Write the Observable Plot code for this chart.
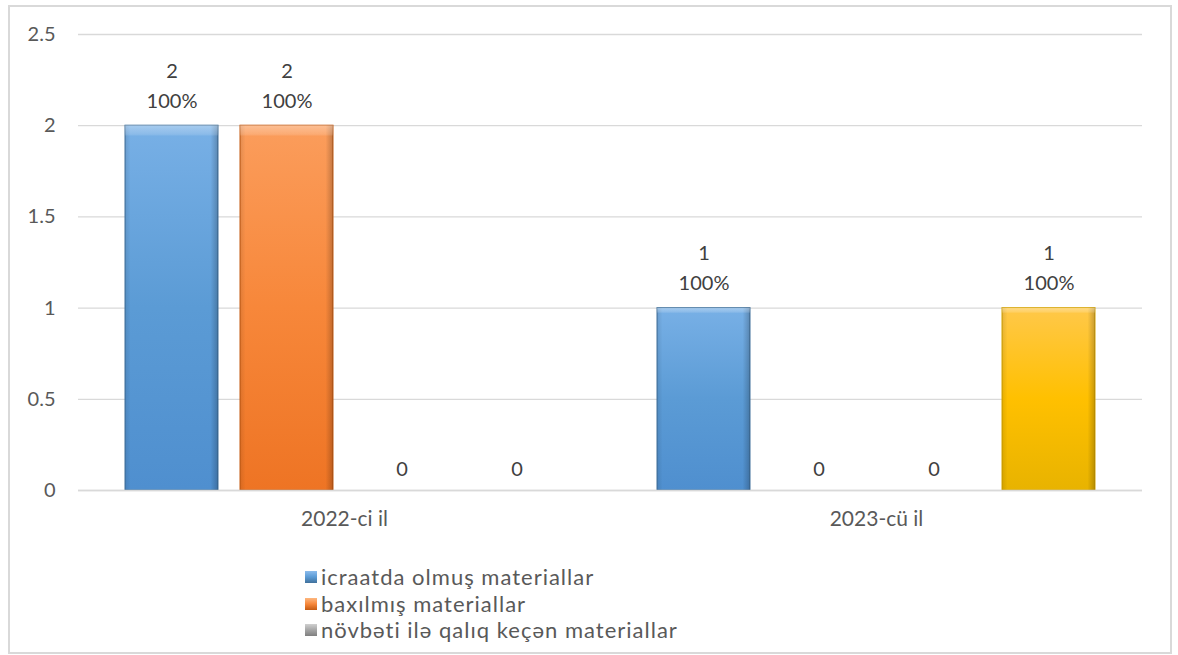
<!DOCTYPE html>
<html>
<head>
<meta charset="utf-8">
<script src="https://cdn.jsdelivr.net/npm/d3@7"></script>
<script src="https://cdn.jsdelivr.net/npm/@observablehq/plot@0.6"></script>
<style>
  body { margin: 0; background: #fff; }
  #wrap { position: relative; width: 1178px; height: 655px; font-family: Lato, sans-serif; overflow: hidden; }
  #frame { position: absolute; left: 8px; top: 5px; width: 1160px; height: 645px; border: 2px solid #d9d9d9; }
  #chart { position: absolute; left: 0; top: 0; }
  #legend { position: absolute; left: 305px; top: 564px; font-size: 22px; line-height: 26.6px; letter-spacing: 1px; color: #595959; }
  .item { display: flex; align-items: center; white-space: nowrap; height: 26.6px; }
  .sw { width: 12px; height: 12px; margin-right: 4px; box-sizing: border-box; }
</style>
</head>
<body>
<div id="wrap">
  <div id="frame"></div>
  <div id="chart"></div>
  <div id="legend"></div>
</div>
<script>
// ---- data ----
const years = ["2022-ci il", "2023-cü il"];
const seriesKeys = ["s1", "s2", "s3", "s4"];
const legendLabels = ["icraatda olmuş materiallar", "baxılmış materiallar", "növbəti ilə qalıq keçən materiallar"];
const values2022 = [2, 2, 0, 0];
const values2023 = [1, 0, 0, 1];
const percent2022 = ["100%", "100%", "", ""];
const percent2023 = ["100%", "", "", "100%"];
const yTicks = [0, 0.5, 1, 1.5, 2, 2.5];

const seriesFill = {s1: "url(#gBlue)", s2: "url(#gOrange)", s3: "url(#gGray)", s4: "url(#gYellow)"};
const seriesStroke = {s1: "#41719c", s2: "#c55a11", s3: "#7f7f7f", s4: "#d6a300"};

const rows = [];
[[values2022, percent2022], [values2023, percent2023]].forEach(([vals, pcts], i) => {
  vals.forEach((v, j) => rows.push({year: years[i], series: seriesKeys[j], value: v, pct: pcts[j]}));
});

const textColor = "#595959";
const nonZero = rows.filter(d => d.value > 0);
const zeros = rows.filter(d => d.value === 0);

const chart = Plot.plot({
  width: 1178,
  height: 560,
  marginLeft: 78,
  marginRight: 36,
  marginTop: 34,
  marginBottom: 70,
  style: {fontFamily: "Lato, sans-serif", color: textColor, background: "transparent"},
  fx: {domain: years, padding: 0},
  x: {domain: seriesKeys, paddingInner: 0.19, paddingOuter: 0.39, axis: null},
  y: {domain: [0, 2.5]},
  color: {type: "identity"},
  marks: [
    Plot.gridY(yTicks, {stroke: "#d9d9d9", strokeOpacity: 1, strokeWidth: 1.3}),
    Plot.barY(nonZero, {
      fx: "year", x: "series", y: "value",
      fill: d => seriesFill[d.series],
      stroke: d => seriesStroke[d.series], strokeWidth: 1
    }),
    Plot.barY(nonZero, {
      fx: "year", x: "series", y: "value",
      fill: "url(#gBevel)"
    }),
    Plot.barY(nonZero, {
      fx: "year", x: "series", y: "value",
      fill: "url(#gTop)"
    }),
    Plot.ruleY([0], {stroke: "#d9d9d9", strokeWidth: 1.5}),
    Plot.text(nonZero, {
      fx: "year", x: "series", y: "value",
      text: d => `${d.value}\n${d.pct}`,
      lineAnchor: "bottom", dy: -18, lineHeight: 1.5,
      fontSize: 20, fill: "#404040"
    }),
    Plot.text(zeros, {
      fx: "year", x: "series", y: "value",
      text: d => `${d.value}`,
      lineAnchor: "bottom", dy: -15,
      fontSize: 20, fill: "#404040"
    }),
    Plot.axisY(yTicks, {tickSize: 0, tickPadding: 23, fontSize: 20, label: null, fill: textColor, tickFormat: d => String(d)}),
    Plot.axisFx({anchor: "bottom", tickSize: 0, tickPadding: 21, fontSize: 21, label: null, fill: textColor})
  ]
});

// gradient defs for bevelled bars
const ns = "http://www.w3.org/2000/svg";
const defs = document.createElementNS(ns, "defs");
defs.innerHTML = `
  <linearGradient id="gBlue" x1="0" y1="0" x2="0" y2="1">
    <stop offset="0" stop-color="#78b0e6"/>
    <stop offset="0.5" stop-color="#5b9bd5"/>
    <stop offset="1" stop-color="#4f8fcf"/>
  </linearGradient>
  <linearGradient id="gOrange" x1="0" y1="0" x2="0" y2="1">
    <stop offset="0" stop-color="#fb9d5c"/>
    <stop offset="0.5" stop-color="#f7873a"/>
    <stop offset="1" stop-color="#ee7424"/>
  </linearGradient>
  <linearGradient id="gGray" x1="0" y1="0" x2="0" y2="1">
    <stop offset="0" stop-color="#c8c8c8"/>
    <stop offset="1" stop-color="#8f8f8f"/>
  </linearGradient>
  <linearGradient id="gYellow" x1="0" y1="0" x2="0" y2="1">
    <stop offset="0" stop-color="#ffc84a"/>
    <stop offset="0.5" stop-color="#ffc000"/>
    <stop offset="1" stop-color="#e8b300"/>
  </linearGradient>
  <linearGradient id="gBevel" x1="0" y1="0" x2="1" y2="0">
    <stop offset="0" stop-color="#000" stop-opacity="0.10"/>
    <stop offset="0.06" stop-color="#000" stop-opacity="0"/>
    <stop offset="0.92" stop-color="#000" stop-opacity="0"/>
    <stop offset="1" stop-color="#000" stop-opacity="0.22"/>
  </linearGradient>
  <linearGradient id="gTop" x1="0" y1="0" x2="0" y2="1">
    <stop offset="0" stop-color="#fff" stop-opacity="0.35"/>
    <stop offset="0.025" stop-color="#fff" stop-opacity="0.15"/>
    <stop offset="0.03" stop-color="#fff" stop-opacity="0"/>
    <stop offset="1" stop-color="#fff" stop-opacity="0"/>
  </linearGradient>`;
chart.insertBefore(defs, chart.firstChild);
document.getElementById("chart").appendChild(chart);

// legend (only the three entries visible in the reference)
const swatchColors = ["linear-gradient(#8cbcec,#5b9bd5 50%,#41719c)", "linear-gradient(#fdb77f,#f7873a 50%,#c55a11)", "linear-gradient(#d0d0d0,#a5a5a5 50%,#7f7f7f)"];
const legend = document.getElementById("legend");
legendLabels.forEach((label, i) => {
  const item = document.createElement("div");
  item.className = "item";
  const sw = document.createElement("span");
  sw.className = "sw";
  sw.style.background = swatchColors[i];
  item.appendChild(sw);
  const t = document.createElement("span");
  t.textContent = label;
  item.appendChild(t);
  legend.appendChild(item);
});
</script>
</body>
</html>
